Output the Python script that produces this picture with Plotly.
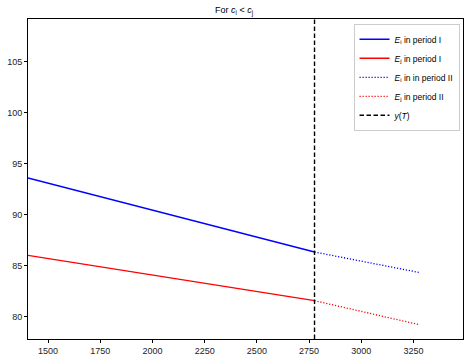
import plotly.graph_objects as go

# Emission paths for two agents (c_i < c_j)
t_start = 1404
T = 2776
t_end = 3276

x_period1 = [t_start, T]
x_period2 = [T, t_end]

e_i_period1 = [93.57, 86.31]
e_j_period1 = [85.98, 81.54]
e_i_period2 = [86.31, 84.31]
e_j_period2 = [81.54, 79.19]

x_range = [1404, 3487]
y_range = [77.78, 109.16]
x_ticks = [1500, 1750, 2000, 2250, 2500, 2750, 3000, 3250]
y_ticks = [80, 85, 90, 95, 100, 105]

FONT = "Liberation Sans"

fig = go.Figure()
fig.add_trace(go.Scatter(x=x_period1, y=e_i_period1, mode="lines",
                         line=dict(color="#0000ff", width=1.4),
                         name="<i>E</i><sub>i</sub> in period I"))
fig.add_trace(go.Scatter(x=x_period1, y=e_j_period1, mode="lines",
                         line=dict(color="#ff0000", width=1.4),
                         name="<i>E</i><sub>j</sub> in period I"))
fig.add_trace(go.Scatter(x=x_period2, y=e_i_period2, mode="lines",
                         line=dict(color="#0000ff", width=1.3, dash="1.2px,1.8px"),
                         name="<i>E</i><sub>i</sub> in in period II"))
fig.add_trace(go.Scatter(x=x_period2, y=e_j_period2, mode="lines",
                         line=dict(color="#ff0000", width=1.3, dash="1.2px,1.8px"),
                         name="<i>E</i><sub>j</sub> in period II"))
fig.add_trace(go.Scatter(x=[T, T], y=y_range, mode="lines",
                         line=dict(color="black", width=1.4, dash="4.5px,2.5px"),
                         name="<i>y</i>(<i>T</i>)"))

axis_common = dict(showgrid=False, zeroline=False, showline=True, mirror=True,
                   linecolor="black", linewidth=1, ticks="outside", ticklen=3,
                   tickwidth=1, tickcolor="black",
                   tickfont=dict(family=FONT, size=9, color="#222222"))

fig.update_layout(
    width=465, height=360,
    margin=dict(l=28, r=2, t=19, b=21),
    paper_bgcolor="white", plot_bgcolor="white",
    title=dict(text="For <i>c</i><sub>i</sub> &lt; <i>c</i><sub>j</sub>",
               x=234 / 465, xanchor="center", y=1 - 10 / 360, yanchor="middle",
               font=dict(family=FONT, size=9, color="black")),
    xaxis=dict(range=x_range, tickvals=x_ticks, **axis_common),
    yaxis=dict(range=y_range, tickvals=y_ticks, **axis_common),
    legend=dict(x=0.992, y=0.985, xanchor="right", yanchor="top",
                bgcolor="white", bordercolor="#cccccc", borderwidth=1,
                font=dict(family=FONT, size=8.5, color="black"),
                tracegroupgap=0, itemwidth=30),
    showlegend=True,
)

fig.write_html("out.html")
